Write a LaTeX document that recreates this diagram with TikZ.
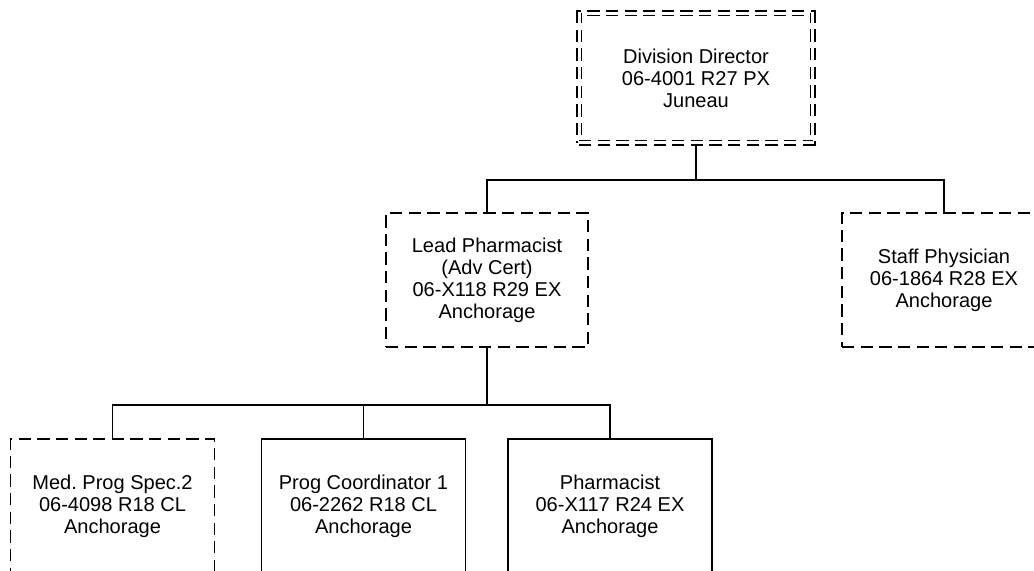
\documentclass[tikz,border=0pt]{standalone}
\usepackage{fontspec}
\setmainfont{Liberation Sans}
\usepackage{tikz}
\usetikzlibrary{positioning}
\frenchspacing

\begin{document}
\begin{tikzpicture}[x=0.02cm, y=-0.02cm,
    box/.style={draw, line width=0.7pt, rectangle, align=center,
        minimum width=4.08cm, minimum height=2.68cm,
        font=\fontsize{11.4}{12.5}\selectfont},
    dashbox/.style={box, dash pattern=on 7pt off 3.6pt},
    conn/.style={line width=0.75pt},
    thickconn/.style={line width=1.15pt}]
    % Page frame, boxes run off the edges
    \useasboundingbox (0,0) rectangle (1034,571);
    \clip (0,0) rectangle (1034,571);

    % Levels of the chart
    \node[dashbox, double, double distance=1.7pt, line width=0.7pt,
        minimum width=4.68cm, minimum height=2.6cm] (dir) at (696,78)
        {Division Director\\06-4001 R27 PX\\Juneau};
    \node[dashbox, minimum width=4.04cm] (lead) at (487,280)
        {Lead Pharmacist\\(Adv Cert)\\06-X118 R29 EX\\Anchorage};
    \node[dashbox] (staff) at (944,280)
        {Staff Physician\\06-1864 R28 EX\\Anchorage};
    \node[dashbox] (med) at (112.5,506)
        {Med. Prog Spec.2\\06-4098 R18 CL\\Anchorage};
    \node[box] (prog) at (363.5,506)
        {Prog Coordinator 1\\06-2262 R18 CL\\Anchorage};
    \node[box] (pharm) at (610,506)
        {Pharmacist\\06-X117 R24 EX\\Anchorage};

    % Bus lines
    \coordinate (bus1) at (0,180);
    \coordinate (bus2) at (0,405);

    % Director to second level
    \draw[conn] (dir.south) -- (dir |- bus1) -| (lead.north);
    \draw[conn] (dir |- bus1) -| (staff.north);

    % Lead pharmacist to third level
    \draw[thickconn] (lead.south) -- (lead |- bus2);
    \draw[conn] (lead |- bus2) -| (med.north);
    \draw[conn] (lead |- bus2) -| (pharm.north);
    \draw[conn] (prog |- bus2) -- (prog.north);
\end{tikzpicture}
\end{document}
